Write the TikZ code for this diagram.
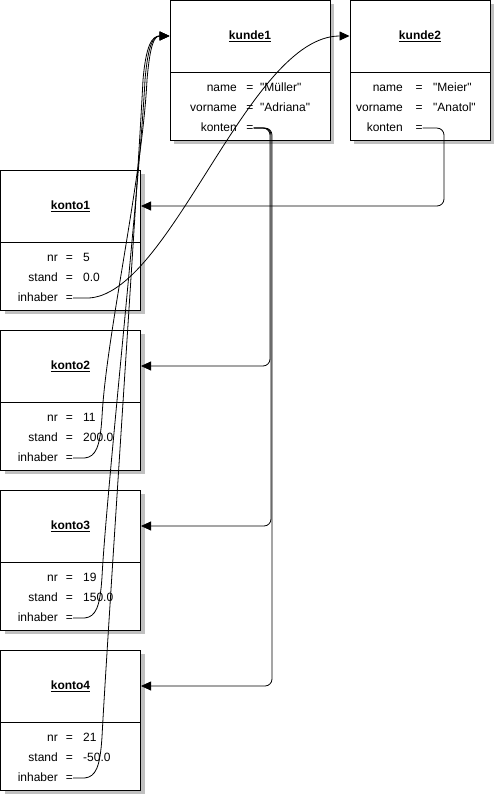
\documentclass[tikz,border=0pt]{standalone}
\usepackage{fontspec}
\setmainfont[Ligatures=TeXOff]{Liberation Sans}
\usetikzlibrary{arrows.meta}
\definecolor{shade}{RGB}{192,192,192}
\tikzset{
  part/.style={draw, line width=1pt, fill=white, inner sep=0pt},
  headbox/.style={part, minimum height=72pt, font=\fontsize{12}{14}\selectfont\bfseries},
  bodybox/.style={part, minimum height=68pt},
  lbl/.style={inner sep=0pt, font=\fontsize{12}{14}\selectfont},
  conn/.style={line width=0.8pt},
  ref/.style={conn, -{Triangle[length=10pt,width=9pt]}},
  shadowfill/.style={fill=shade},
}
\newcommand{\attrrow}[7]{%
  \node[lbl, anchor=base east] (#1l) at (#2,#5) {#6};
  \node[lbl, anchor=base] (#1e) at (#3,#5) {=};
  \node[lbl, anchor=base west] (#1v) at (#4,#5) {#7};
}
\begin{document}
\begin{tikzpicture}[x=1pt,y=-1pt]
\useasboundingbox (0,0) rectangle (495,795);

% ---- kunde1 ----
\fill[shadowfill] (174,4) rectangle (334,144);
\node[headbox, minimum width=160pt] (k1h) at (250,36) {\underline{kunde1}};
\node[bodybox, minimum width=160pt] (k1b) at (250,106) {};
\attrrow{k1n}{237}{250}{260}{91}{name}{"Müller"}
\attrrow{k1vn}{237}{250}{260}{111}{vorname}{"Adriana"}
\attrrow{k1k}{237}{250}{260}{131}{konten}{}

% ---- kunde2 ----
\fill[shadowfill] (354,4) rectangle (494,144);
\node[headbox, minimum width=140pt] (k2h) at (420,36) {\underline{kunde2}};
\node[bodybox, minimum width=140pt] (k2b) at (420,106) {};
\attrrow{k2n}{403}{419}{433}{91}{name}{"Meier"}
\attrrow{k2vn}{403}{419}{433}{111}{vorname}{"Anatol"}
\attrrow{k2k}{403}{419}{433}{131}{konten}{}

% ---- konto boxes ----
\fill[shadowfill] (4.5,174) rectangle (144.5,314);
\node[headbox, minimum width=140pt] (o1h) at (70.5,206) {\underline{konto1}};
\node[bodybox, minimum width=140pt] (o1b) at (70.5,276) {};
\attrrow{o1n}{58}{69.5}{83}{261}{nr}{5}
\attrrow{o1s}{58}{69.5}{83}{281}{stand}{0.0}
\attrrow{o1i}{58}{69.5}{83}{301}{inhaber}{}

\fill[shadowfill] (4.5,334) rectangle (144.5,474);
\node[headbox, minimum width=140pt] (o2h) at (70.5,366) {\underline{konto2}};
\node[bodybox, minimum width=140pt] (o2b) at (70.5,436) {};
\attrrow{o2n}{58}{69.5}{83}{421}{nr}{11}
\attrrow{o2s}{58}{69.5}{83}{441}{stand}{200.0}
\attrrow{o2i}{58}{69.5}{83}{461}{inhaber}{}

\fill[shadowfill] (4.5,494) rectangle (144.5,634);
\node[headbox, minimum width=140pt] (o3h) at (70.5,526) {\underline{konto3}};
\node[bodybox, minimum width=140pt] (o3b) at (70.5,596) {};
\attrrow{o3n}{58}{69.5}{83}{581}{nr}{19}
\attrrow{o3s}{58}{69.5}{83}{601}{stand}{150.0}
\attrrow{o3i}{58}{69.5}{83}{621}{inhaber}{}

\fill[shadowfill] (4.5,654) rectangle (144.5,794);
\node[headbox, minimum width=140pt] (o4h) at (70.5,686) {\underline{konto4}};
\node[bodybox, minimum width=140pt] (o4b) at (70.5,756) {};
\attrrow{o4n}{58}{69.5}{83}{741}{nr}{21}
\attrrow{o4s}{58}{69.5}{83}{761}{stand}{-50.0}
\attrrow{o4i}{58}{69.5}{83}{781}{inhaber}{}

% ---- connectors: konten ----
\coordinate (k1drop) at (270,0);
\coordinate (k1drop2) at (271,0);
\coordinate (k1drop3) at (272,0);
\coordinate (k2drop) at (444,0);
\draw[ref, rounded corners=7pt] (k1ke.east) -| (k1drop |- o2h.east) -- (o2h.east);
\draw[ref, rounded corners=7pt] (k1ke.east) -| (k1drop2 |- o3h.east) -- (o3h.east);
\draw[ref, rounded corners=7pt] (k1ke.east) -| (k1drop3 |- o4h.east) -- (o4h.east);
\draw[ref, rounded corners=7pt] (k2ke.east) -| (k2drop |- o1h.east) -- (o1h.east);

% ---- connectors: inhaber ----
\draw[ref] (o1ie.east) -- ++(14,0) .. controls (170,297) and (248,36) .. (k2h.west);
\draw[ref] (o2ie.east) -- ++(11,0) .. controls (96,457) and (100,447) .. (102,417)
  .. controls (106,337) and (142,180) .. (147,80)
  .. controls (150,45) and (154,36) .. (k1h.west);
\draw[ref] (o3ie.east) -- ++(11,0) .. controls (96,617) and (100,607) .. (102,577)
  .. controls (106,497) and (140,180) .. (145,80)
  .. controls (148,45) and (153,36) .. (k1h.west);
\draw[ref] (o4ie.east) -- ++(11,0) .. controls (96,777) and (100,767) .. (102,737)
  .. controls (106,657) and (138,180) .. (143,80)
  .. controls (146,45) and (152,36) .. (k1h.west);
\end{tikzpicture}
\end{document}
